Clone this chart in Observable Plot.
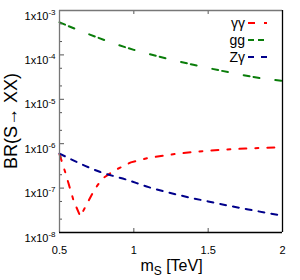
<!DOCTYPE html>
<html>
<head>
<meta charset="utf-8">
<script src="https://cdn.jsdelivr.net/npm/d3@7"></script>
<script src="https://cdn.jsdelivr.net/npm/@observablehq/plot@0.6"></script>
<style>
  html, body { margin: 0; padding: 0; background: #fff; }
  #chart { width: 300px; height: 280px; }
</style>
</head>
<body>
<div id="chart"></div>
<script>
// --- data ---
const mAA = [0.5, 0.54, 0.56, 0.595, 0.64, 0.69, 0.74, 0.79, 0.87, 0.98, 1.1, 1.3, 1.5, 1.75, 2.0];
const brAA = [5.8e-7, 2.2e-7, 1.3e-7, 5.2e-8, 2.3e-8, 4.8e-8, 9.8e-8, 1.65e-7, 2.5e-7, 3.8e-7, 4.8e-7, 6.0e-7, 7.0e-7, 7.8e-7, 8.3e-7];

const mGG = [0.5, 0.7, 1.0, 1.15, 1.4, 1.65, 1.85, 2.0];
const brGG = [5.4e-4, 2.9e-4, 1.3e-4, 9.5e-5, 6.0e-5, 4.0e-5, 3.0e-5, 2.6e-5];

const mZA = [0.5, 0.6, 0.775, 0.95, 1.1, 1.3, 1.5, 1.77, 2.0];
const brZA = [6.0e-7, 4.1e-7, 2.3e-7, 1.55e-7, 1.05e-7, 7.0e-8, 5.0e-8, 3.3e-8, 2.4e-8];

const seriesNames = ["γγ", "gg", "Zγ"];
const seriesColors = ["#ff0000", "#0a7d0a", "#00008b"];
const seriesDash = ["7,9,3,9", "6,4,6,16", "6,7"];

const xTicks = [0.5, 1, 1.5, 2];
const yMajor = [1e-3, 1e-4, 1e-5, 1e-6, 1e-7, 1e-8];
const yMinorMult = [2, 5];
const xTitle = ["m", "S", " [TeV]"];
const yTitle = "BR(S→ XX)";

// --- build tables ---
const toRows = (ms, bs) => ms.map((m, i) => ({m, br: bs[i]}));
const rowsAA = toRows(mAA, brAA);
const rowsGG = toRows(mGG, brGG);
const rowsZA = toRows(mZA, brZA);
const yMinor = [];
for (const d of yMajor.slice(1)) for (const k of yMinorMult) yMinor.push(d * k);

const W = 300, H = 280, mL = 59, mR = 18, mT = 10, mB = 48;
const fw = W - mL - mR, fh = H - mT - mB;
const font = "'Liberation Sans', Arial, Helvetica, sans-serif";

const plot = Plot.plot({
  width: W, height: H,
  marginLeft: mL, marginRight: mR, marginTop: mT, marginBottom: mB,
  style: {fontFamily: font, color: "#000", background: "#fff"},
  x: {type: "linear", domain: [0.5, 2]},
  y: {type: "log", domain: [1e-8, 1e-3]},
  marks: [
    Plot.line(rowsAA, {x: "m", y: "br", stroke: seriesColors[0], strokeWidth: 2, strokeDasharray: seriesDash[0]}),
    Plot.line(rowsGG, {x: "m", y: "br", stroke: seriesColors[1], strokeWidth: 2, strokeDasharray: seriesDash[1], curve: "monotone-x"}),
    Plot.line(rowsZA, {x: "m", y: "br", stroke: seriesColors[2], strokeWidth: 2, strokeDasharray: seriesDash[2], curve: "monotone-x"}),
    // inward ticks
    Plot.ruleX(xTicks, {stroke: "#555", insetTop: fh - 4}),
    Plot.ruleX(xTicks, {stroke: "#555", insetBottom: fh - 4}),
    Plot.ruleY(yMajor, {stroke: "#555", insetRight: fw - 5}),
    Plot.ruleY(yMinor, {stroke: "#555", insetRight: fw - 3}),
    // border
    Plot.ruleX([0.5], {stroke: "#777", strokeWidth: 1.3}),
    Plot.ruleY([1e-3], {stroke: "#777", strokeWidth: 1.3}),
    Plot.ruleX([2], {stroke: "#000", strokeWidth: 1.3}),
    Plot.ruleY([1e-8], {stroke: "#000", strokeWidth: 1.3}),
    // axes
    Plot.axisX({ticks: xTicks, tickSize: 0, tickPadding: 14, tickFormat: d => String(d), label: null, fontSize: 11}),
    Plot.axisY({ticks: yMajor, tickSize: 0, tickPadding: 4, tickFormat: d => "1x10|" + Math.round(Math.log10(d)), label: null, fontSize: 11})
  ]
});

document.getElementById("chart").appendChild(plot);
const svg = d3.select(plot);

// superscripts on y tick labels
svg.selectAll('[aria-label="y-axis tick label"] text').each(function() {
  const t = d3.select(this);
  const s = t.text();
  if (s.indexOf("|") < 0) return;
  const [base, exp] = s.split("|");
  t.text(base).attr("dy", "0.5em");
  t.append("tspan").attr("dy", "-0.6em").attr("font-size", 8).text(exp);
});

// x title with subscript
const xt = svg.append("text")
  .attr("x", mL + fw / 2 + 1).attr("y", 271)
  .attr("text-anchor", "middle").attr("font-size", 16).attr("font-family", font).attr("fill", "#000");
xt.append("tspan").text(xTitle[0]);
xt.append("tspan").attr("font-size", 12).attr("dy", 4).text(xTitle[1]);
xt.append("tspan").attr("dy", -4).text(xTitle[2]);

// y title
svg.append("text")
  .attr("transform", `translate(17,${mT + fh / 2}) rotate(-90)`)
  .attr("text-anchor", "middle").attr("font-size", 18).attr("font-family", font).attr("fill", "#000")
  .text(yTitle);

// legend
const lg = svg.append("g").attr("font-family", font).attr("font-size", 14);
seriesNames.forEach((name, i) => {
  const y = 23 + i * 17;
  lg.append("text").attr("x", 245).attr("y", y).attr("dy", "0.35em")
    .attr("text-anchor", "end").attr("fill", "#000").text(name);
  lg.append("line").attr("x1", 248).attr("x2", 268).attr("y1", y).attr("y2", y)
    .attr("stroke", seriesColors[i]).attr("stroke-width", 2).attr("stroke-dasharray", seriesDash[i]);
});
</script>
</body>
</html>
